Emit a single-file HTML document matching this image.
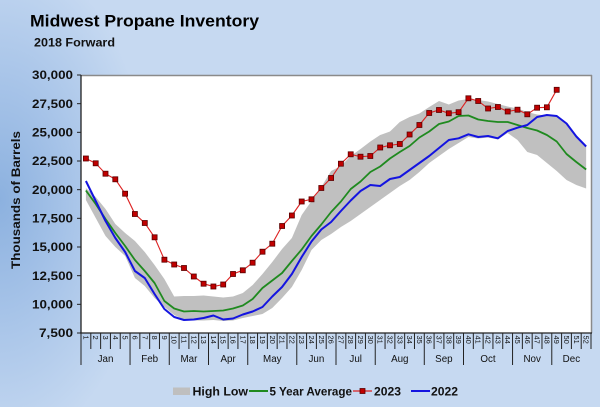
<!DOCTYPE html>
<html>
<head>
<meta charset="utf-8">
<style>
html,body{margin:0;padding:0;}
body{width:600px;height:407px;overflow:hidden;
background:radial-gradient(ellipse 150px 250px at 0px 200px,#8cb1df 0%,#a6c3e8 45%,#c6d9f1 100%) #c6d9f1;}
svg{display:block;position:absolute;left:0;top:0;}
text{font-family:"Liberation Sans",Arial,sans-serif;}
</style>
</head>
<body>
<svg width="600" height="407" viewBox="0 0 600 407" xmlns="http://www.w3.org/2000/svg">
<!-- Title -->
<text x="30" y="26.5" font-size="17" font-weight="bold" fill="#000" textLength="229" lengthAdjust="spacingAndGlyphs">Midwest Propane Inventory</text>
<text x="34" y="46.5" font-size="12" font-weight="bold" fill="#111" textLength="81" lengthAdjust="spacingAndGlyphs">2018 Forward</text>

<!-- Plot area -->
<rect x="81" y="75" width="510" height="258" fill="#ffffff"/>
<line x1="81" y1="75.5" x2="592" y2="75.5" stroke="#8a8a8a" stroke-width="1.5"/>
<line x1="591.5" y1="75" x2="591.5" y2="333" stroke="#8a8a8a" stroke-width="1.5"/>

<!-- High/Low band -->
<polygon fill="#c0c0c0" points="85.90,188 95.71,197 105.52,209 115.33,224 125.14,233 134.94,241 144.75,252 154.56,265 164.37,279 174.18,296.5 183.99,296 193.80,296 203.60,295.5 213.41,296.5 223.22,297.5 233.03,296.5 242.84,293 252.65,285 262.46,274 272.26,262 282.07,249 291.88,238 301.69,215 311.50,201 321.31,187 331.12,171 340.92,166 350.73,156 360.54,149 370.35,141.5 380.16,135 389.97,131.5 399.78,122 409.58,117 419.39,113.5 429.20,107 439.01,101 448.82,104.5 458.63,100.5 468.44,99 478.24,100 488.05,101.5 497.86,104 507.67,106.5 517.48,108.5 527.29,112 537.10,114.5 546.90,115.5 556.71,116.5 566.52,123.5 576.33,136 586.14,146.5 586.14,188.5 576.33,185 566.52,180 556.71,171 546.90,163 537.10,155 527.29,152 517.48,140 507.67,133 497.86,139.5 488.05,137.5 478.24,138.5 468.44,137 458.63,143 448.82,149 439.01,156 429.20,163 419.39,172 409.58,180 399.78,186 389.97,193 380.16,200 370.35,207 360.54,214 350.73,221 340.92,227 331.12,234 321.31,240 311.50,250 301.69,270 291.88,287 282.07,298 272.26,308 262.46,314 252.65,316 242.84,318 233.03,320.5 223.22,321 213.41,320 203.60,320.5 193.80,320.5 183.99,319.5 174.18,315 164.37,307 154.56,298 144.75,286 134.94,278 125.14,256 115.33,247 105.52,236 95.71,218 85.90,200"/>

<!-- 5 Year Average -->
<polyline fill="none" stroke="#1f8a1f" stroke-width="1.8" stroke-linejoin="round" points="85.90,190.5 95.71,204 105.52,219 115.33,233 125.14,246 134.94,260 144.75,271 154.56,283 164.37,301 174.18,308.5 183.99,311.5 193.80,311 203.60,311.5 213.41,311 223.22,310.5 233.03,308.5 242.84,305.5 252.65,299 262.46,288 272.26,280.5 282.07,273 291.88,261 301.69,249.5 311.50,236 321.31,224.5 331.12,212 340.92,201.5 350.73,189 360.54,181.5 370.35,172 380.16,166.5 389.97,158.5 399.78,152 409.58,146 419.39,137.5 429.20,131.5 439.01,124 448.82,121.5 458.63,116 468.44,115.5 478.24,119.5 488.05,121 497.86,122 507.67,122 517.48,125 527.29,128 537.10,130.5 546.90,135 556.71,141.5 566.52,154 576.33,162 586.14,169.5"/>

<!-- 2022 -->
<polyline fill="none" stroke="#1414e0" stroke-width="2" stroke-linejoin="round" points="85.90,181 95.71,201 105.52,221 115.33,238 125.14,252 134.94,271 144.75,278 154.56,294 164.37,309 174.18,317 183.99,320 193.80,319.5 203.60,318 213.41,315.5 223.22,319.5 233.03,318.5 242.84,314.5 252.65,311.5 262.46,307 272.26,296.5 282.07,287 291.88,274 301.69,257 311.50,241.5 321.31,229.5 331.12,222 340.92,211 350.73,200.5 360.54,191 370.35,185 380.16,186 389.97,179 399.78,177 409.58,170 419.39,163 429.20,156 439.01,148 448.82,140 458.63,138.3 468.44,134.3 478.24,137 488.05,136 497.86,138.3 507.67,131 517.48,127.7 527.29,125 537.10,117 546.90,115 556.71,116 566.52,123.5 576.33,136.5 586.14,146.5"/>

<!-- 2023 -->
<g>
<polyline fill="none" stroke="#dd2222" stroke-width="1.1" points="85.90,158.5 95.71,163.3 105.52,173.7 115.33,179.3 125.14,193.7 134.94,214 144.75,223 154.56,237.3 164.37,259.7 174.18,264.5 183.99,268 193.80,276.5 203.60,283.7 213.41,286.5 223.22,284.5 233.03,274 242.84,270.3 252.65,262.7 262.46,251.7 272.26,243.7 282.07,226 291.88,215.5 301.69,201.5 311.50,199.3 321.31,188 331.12,178 340.92,163.7 350.73,154.3 360.54,156.7 370.35,156 380.16,147.5 389.97,145.3 399.78,144 409.58,134.5 419.39,125 429.20,113 439.01,110 448.82,113.3 458.63,112.2 468.44,98.3 478.24,101 488.05,108.5 497.86,107 507.67,111.5 517.48,109.7 527.29,114.3 537.10,107.7 546.90,107.3 556.71,89.8"/>
<g fill="#c00000" stroke="#5a0000" stroke-width="0.8">
<rect x="83.4" y="156" width="5" height="5"/><rect x="93.2" y="160.8" width="5" height="5"/><rect x="103" y="171.2" width="5" height="5"/><rect x="112.8" y="176.8" width="5" height="5"/><rect x="122.6" y="191.2" width="5" height="5"/><rect x="132.4" y="211.5" width="5" height="5"/><rect x="142.3" y="220.5" width="5" height="5"/><rect x="152.1" y="234.8" width="5" height="5"/><rect x="161.9" y="257.2" width="5" height="5"/><rect x="171.7" y="262" width="5" height="5"/><rect x="181.5" y="265.5" width="5" height="5"/><rect x="191.3" y="274" width="5" height="5"/><rect x="201.1" y="281.2" width="5" height="5"/><rect x="210.9" y="284" width="5" height="5"/><rect x="220.7" y="282" width="5" height="5"/><rect x="230.5" y="271.5" width="5" height="5"/><rect x="240.3" y="267.8" width="5" height="5"/><rect x="250.1" y="260.2" width="5" height="5"/><rect x="260" y="249.2" width="5" height="5"/><rect x="269.8" y="241.2" width="5" height="5"/><rect x="279.6" y="223.5" width="5" height="5"/><rect x="289.4" y="213" width="5" height="5"/><rect x="299.2" y="199" width="5" height="5"/><rect x="309" y="196.8" width="5" height="5"/><rect x="318.8" y="185.5" width="5" height="5"/><rect x="328.6" y="175.5" width="5" height="5"/><rect x="338.4" y="161.2" width="5" height="5"/><rect x="348.2" y="151.8" width="5" height="5"/><rect x="358" y="154.2" width="5" height="5"/><rect x="367.8" y="153.5" width="5" height="5"/><rect x="377.7" y="145" width="5" height="5"/><rect x="387.5" y="142.8" width="5" height="5"/><rect x="397.3" y="141.5" width="5" height="5"/><rect x="407.1" y="132" width="5" height="5"/><rect x="416.9" y="122.5" width="5" height="5"/><rect x="426.7" y="110.5" width="5" height="5"/><rect x="436.5" y="107.5" width="5" height="5"/><rect x="446.3" y="110.8" width="5" height="5"/><rect x="456.1" y="109.7" width="5" height="5"/><rect x="465.9" y="95.8" width="5" height="5"/><rect x="475.7" y="98.5" width="5" height="5"/><rect x="485.6" y="106" width="5" height="5"/><rect x="495.4" y="104.5" width="5" height="5"/><rect x="505.2" y="109" width="5" height="5"/><rect x="515" y="107.2" width="5" height="5"/><rect x="524.8" y="111.8" width="5" height="5"/><rect x="534.6" y="105.2" width="5" height="5"/><rect x="544.4" y="104.8" width="5" height="5"/><rect x="554.2" y="87.3" width="5" height="5"/>
</g>
</g>

<!-- Axes -->
<line x1="81" y1="75" x2="81" y2="333" stroke="#222" stroke-width="1.3"/>
<line x1="80" y1="333" x2="592" y2="333" stroke="#222" stroke-width="1.3"/>
<g stroke="#222" stroke-width="1">
<line x1="77" y1="75" x2="81" y2="75"/><line x1="77" y1="103.67" x2="81" y2="103.67"/><line x1="77" y1="132.33" x2="81" y2="132.33"/><line x1="77" y1="161" x2="81" y2="161"/><line x1="77" y1="189.67" x2="81" y2="189.67"/><line x1="77" y1="218.33" x2="81" y2="218.33"/><line x1="77" y1="247" x2="81" y2="247"/><line x1="77" y1="275.67" x2="81" y2="275.67"/><line x1="77" y1="304.33" x2="81" y2="304.33"/><line x1="77" y1="333" x2="81" y2="333"/>
</g>
<g font-size="12" font-weight="bold" fill="#111" text-anchor="end">
<text x="73" y="79.2" textLength="41" lengthAdjust="spacingAndGlyphs">30,000</text>
<text x="73" y="107.9" textLength="41" lengthAdjust="spacingAndGlyphs">27,500</text>
<text x="73" y="136.5" textLength="41" lengthAdjust="spacingAndGlyphs">25,000</text>
<text x="73" y="165.2" textLength="41" lengthAdjust="spacingAndGlyphs">22,500</text>
<text x="73" y="193.9" textLength="41" lengthAdjust="spacingAndGlyphs">20,000</text>
<text x="73" y="222.5" textLength="41" lengthAdjust="spacingAndGlyphs">17,500</text>
<text x="73" y="251.2" textLength="41" lengthAdjust="spacingAndGlyphs">15,000</text>
<text x="73" y="279.9" textLength="41" lengthAdjust="spacingAndGlyphs">12,500</text>
<text x="73" y="308.5" textLength="41" lengthAdjust="spacingAndGlyphs">10,000</text>
<text x="73" y="337.2" textLength="34" lengthAdjust="spacingAndGlyphs">7,500</text>
</g>
<text transform="translate(20,200) rotate(-90)" text-anchor="middle" font-size="12" font-weight="bold" fill="#111" textLength="138" lengthAdjust="spacingAndGlyphs">Thousands of Barrels</text>

<!-- X ticks -->
<g stroke="#222" stroke-width="1">
<line x1="81" y1="333" x2="81" y2="365"/><line x1="90.81" y1="333" x2="90.81" y2="349"/><line x1="100.62" y1="333" x2="100.62" y2="349"/><line x1="110.42" y1="333" x2="110.42" y2="349"/><line x1="120.23" y1="333" x2="120.23" y2="349"/><line x1="130.04" y1="333" x2="130.04" y2="365"/><line x1="139.85" y1="333" x2="139.85" y2="349"/><line x1="149.66" y1="333" x2="149.66" y2="349"/><line x1="159.46" y1="333" x2="159.46" y2="349"/><line x1="169.27" y1="333" x2="169.27" y2="365"/><line x1="179.08" y1="333" x2="179.08" y2="349"/><line x1="188.89" y1="333" x2="188.89" y2="349"/><line x1="198.70" y1="333" x2="198.70" y2="349"/><line x1="208.50" y1="333" x2="208.50" y2="365"/><line x1="218.31" y1="333" x2="218.31" y2="349"/><line x1="228.12" y1="333" x2="228.12" y2="349"/><line x1="237.93" y1="333" x2="237.93" y2="349"/><line x1="247.74" y1="333" x2="247.74" y2="365"/><line x1="257.54" y1="333" x2="257.54" y2="349"/><line x1="267.35" y1="333" x2="267.35" y2="349"/><line x1="277.16" y1="333" x2="277.16" y2="349"/><line x1="286.97" y1="333" x2="286.97" y2="349"/><line x1="296.78" y1="333" x2="296.78" y2="365"/><line x1="306.58" y1="333" x2="306.58" y2="349"/><line x1="316.39" y1="333" x2="316.39" y2="349"/><line x1="326.20" y1="333" x2="326.20" y2="349"/><line x1="336.01" y1="333" x2="336.01" y2="365"/><line x1="345.82" y1="333" x2="345.82" y2="349"/><line x1="355.62" y1="333" x2="355.62" y2="349"/><line x1="365.43" y1="333" x2="365.43" y2="349"/><line x1="375.24" y1="333" x2="375.24" y2="365"/><line x1="385.05" y1="333" x2="385.05" y2="349"/><line x1="394.86" y1="333" x2="394.86" y2="349"/><line x1="404.66" y1="333" x2="404.66" y2="349"/><line x1="414.47" y1="333" x2="414.47" y2="349"/><line x1="424.28" y1="333" x2="424.28" y2="365"/><line x1="434.09" y1="333" x2="434.09" y2="349"/><line x1="443.90" y1="333" x2="443.90" y2="349"/><line x1="453.70" y1="333" x2="453.70" y2="349"/><line x1="463.51" y1="333" x2="463.51" y2="365"/><line x1="473.32" y1="333" x2="473.32" y2="349"/><line x1="483.13" y1="333" x2="483.13" y2="349"/><line x1="492.94" y1="333" x2="492.94" y2="349"/><line x1="502.74" y1="333" x2="502.74" y2="349"/><line x1="512.55" y1="333" x2="512.55" y2="365"/><line x1="522.36" y1="333" x2="522.36" y2="349"/><line x1="532.17" y1="333" x2="532.17" y2="349"/><line x1="541.98" y1="333" x2="541.98" y2="349"/><line x1="551.78" y1="333" x2="551.78" y2="365"/><line x1="561.59" y1="333" x2="561.59" y2="349"/><line x1="571.40" y1="333" x2="571.40" y2="349"/><line x1="581.21" y1="333" x2="581.21" y2="349"/><line x1="591" y1="333" x2="591" y2="349"/>
</g>
<g font-size="7.5" fill="#111" dominant-baseline="central">
<text transform="translate(85.9,335.5) rotate(90)">1</text><text transform="translate(95.71,335.5) rotate(90)">2</text><text transform="translate(105.52,335.5) rotate(90)">3</text><text transform="translate(115.33,335.5) rotate(90)">4</text><text transform="translate(125.14,335.5) rotate(90)">5</text><text transform="translate(134.94,335.5) rotate(90)">6</text><text transform="translate(144.75,335.5) rotate(90)">7</text><text transform="translate(154.56,335.5) rotate(90)">8</text><text transform="translate(164.37,335.5) rotate(90)">9</text><text transform="translate(174.18,335.5) rotate(90)">10</text><text transform="translate(183.99,335.5) rotate(90)">11</text><text transform="translate(193.8,335.5) rotate(90)">12</text><text transform="translate(203.6,335.5) rotate(90)">13</text><text transform="translate(213.41,335.5) rotate(90)">14</text><text transform="translate(223.22,335.5) rotate(90)">15</text><text transform="translate(233.03,335.5) rotate(90)">16</text><text transform="translate(242.84,335.5) rotate(90)">17</text><text transform="translate(252.65,335.5) rotate(90)">18</text><text transform="translate(262.46,335.5) rotate(90)">19</text><text transform="translate(272.26,335.5) rotate(90)">20</text><text transform="translate(282.07,335.5) rotate(90)">21</text><text transform="translate(291.88,335.5) rotate(90)">22</text><text transform="translate(301.69,335.5) rotate(90)">23</text><text transform="translate(311.5,335.5) rotate(90)">24</text><text transform="translate(321.31,335.5) rotate(90)">25</text><text transform="translate(331.12,335.5) rotate(90)">26</text><text transform="translate(340.92,335.5) rotate(90)">27</text><text transform="translate(350.73,335.5) rotate(90)">28</text><text transform="translate(360.54,335.5) rotate(90)">29</text><text transform="translate(370.35,335.5) rotate(90)">30</text><text transform="translate(380.16,335.5) rotate(90)">31</text><text transform="translate(389.97,335.5) rotate(90)">32</text><text transform="translate(399.78,335.5) rotate(90)">33</text><text transform="translate(409.58,335.5) rotate(90)">34</text><text transform="translate(419.39,335.5) rotate(90)">35</text><text transform="translate(429.2,335.5) rotate(90)">36</text><text transform="translate(439.01,335.5) rotate(90)">37</text><text transform="translate(448.82,335.5) rotate(90)">38</text><text transform="translate(458.63,335.5) rotate(90)">39</text><text transform="translate(468.44,335.5) rotate(90)">40</text><text transform="translate(478.24,335.5) rotate(90)">41</text><text transform="translate(488.05,335.5) rotate(90)">42</text><text transform="translate(497.86,335.5) rotate(90)">43</text><text transform="translate(507.67,335.5) rotate(90)">44</text><text transform="translate(517.48,335.5) rotate(90)">45</text><text transform="translate(527.29,335.5) rotate(90)">46</text><text transform="translate(537.1,335.5) rotate(90)">47</text><text transform="translate(546.9,335.5) rotate(90)">48</text><text transform="translate(556.71,335.5) rotate(90)">49</text><text transform="translate(566.52,335.5) rotate(90)">50</text><text transform="translate(576.33,335.5) rotate(90)">51</text><text transform="translate(586.14,335.5) rotate(90)">52</text>
</g>
<g font-size="9.8" fill="#111" text-anchor="middle">
<text x="105.5" y="362">Jan</text><text x="149.7" y="362">Feb</text><text x="188.9" y="362">Mar</text><text x="228.1" y="362">Apr</text><text x="272.3" y="362">May</text><text x="316.4" y="362">Jun</text><text x="355.7" y="362">Jul</text><text x="399.8" y="362">Aug</text><text x="443.9" y="362">Sep</text><text x="488" y="362">Oct</text><text x="532.2" y="362">Nov</text><text x="571.4" y="362">Dec</text>
</g>

<!-- Legend -->
<rect x="173" y="387.5" width="17" height="7.5" fill="#bfbfbf"/>
<g font-size="11.8" font-weight="bold" fill="#111">
<text x="192.5" y="395.5" textLength="55.5" lengthAdjust="spacingAndGlyphs">High Low</text>
<text x="269.5" y="395.5" textLength="82.5" lengthAdjust="spacingAndGlyphs">5 Year Average</text>
<text x="374" y="395.5" textLength="27" lengthAdjust="spacingAndGlyphs">2023</text>
<text x="431" y="395.5" textLength="27" lengthAdjust="spacingAndGlyphs">2022</text>
</g>
<line x1="249" y1="391" x2="268" y2="391" stroke="#1f8a1f" stroke-width="2"/>
<line x1="353" y1="391" x2="372" y2="391" stroke="#dd2222" stroke-width="1.2"/>
<rect x="360" y="388.5" width="5" height="5" fill="#c00000" stroke="#5a0000" stroke-width="0.8"/>
<line x1="411" y1="391" x2="430" y2="391" stroke="#1414e0" stroke-width="2"/>
</svg>
</body>
</html>
